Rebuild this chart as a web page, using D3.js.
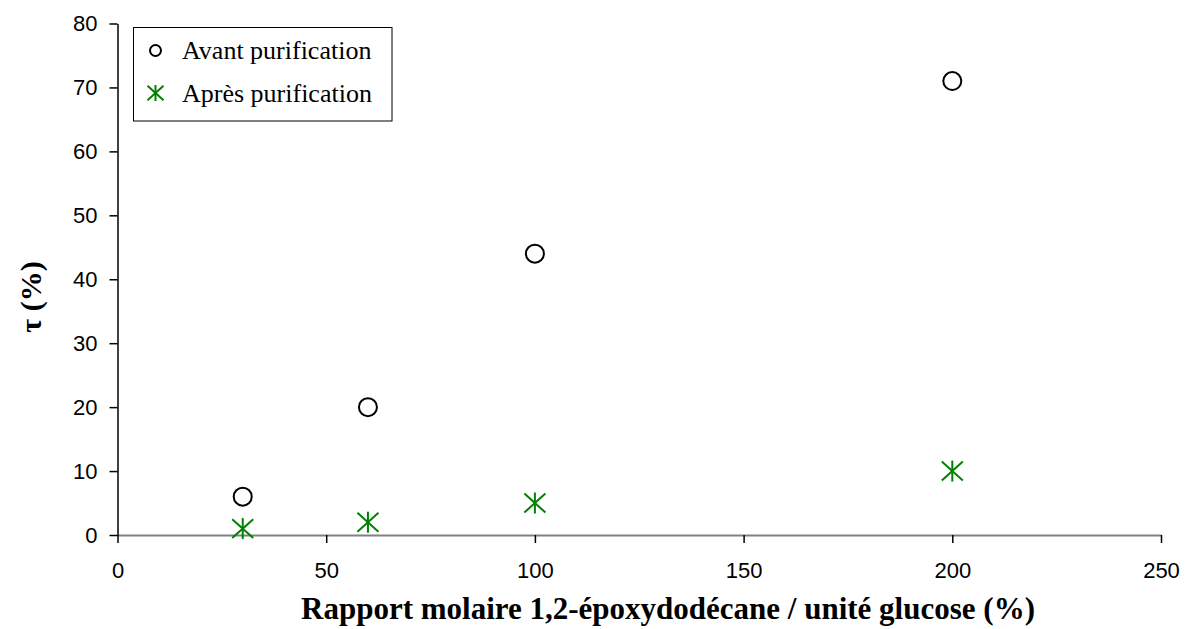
<!DOCTYPE html>
<html><head><meta charset="utf-8">
<script src="https://cdn.jsdelivr.net/npm/d3@7"></script>
<style>body{margin:0;background:#fff}</style>
</head><body>
<svg id="c" width="1188" height="629"></svg>
<script>
const ratios = [30, 60, 100, 200];
const avant = [6, 20, 44, 71];
const apres = [1, 2, 5, 10];
const xTicks = [0, 50, 100, 150, 200, 250];
const yTicks = [0, 10, 20, 30, 40, 50, 60, 70, 80];
const seriesNames = ["Avant purification", "Après purification"];

const svg = d3.select("#c");
const x = d3.scaleLinear().domain([0, 250]).range([117.5, 1161]);
const y = d3.scaleLinear().domain([0, 80]).range([535, 23.5]);
const green = "#008000";

// x axis
const xa = svg.append("g").attr("transform", "translate(0,535)")
  .call(d3.axisBottom(x).tickValues(xTicks).tickSize(8).tickSizeOuter(0));
xa.select(".domain").attr("stroke", "#808080").attr("stroke-width", 2);
xa.selectAll(".tick line").attr("stroke", "#000").attr("stroke-width", 1.5);
xa.selectAll(".tick text").attr("font-family", "Liberation Sans, Arial").attr("font-size", 22)
  .attr("y", 43).attr("dy", null).attr("fill", "#000");

// y axis
const ya = svg.append("g").attr("transform", "translate(117.5,0)")
  .call(d3.axisLeft(y).tickValues(yTicks).tickSize(8).tickSizeOuter(0));
ya.select(".domain").attr("stroke", "#000").attr("stroke-width", 1.5);
ya.selectAll(".tick line").attr("stroke", "#000").attr("stroke-width", 1.5);
ya.selectAll(".tick text").attr("font-family", "Liberation Sans, Arial").attr("font-size", 22)
  .attr("x", -20).attr("fill", "#000");

// titles
svg.append("text").attr("x", 668).attr("y", 619).attr("text-anchor", "middle")
  .attr("font-family", "Liberation Serif, Times New Roman").attr("font-weight", "bold").attr("font-size", 31)
  .text("Rapport molaire 1,2-époxydodécane / unité glucose (%)");
svg.append("text").attr("transform", "translate(41,297) rotate(-90)").attr("text-anchor", "middle")
  .attr("font-family", "Liberation Serif, Times New Roman").attr("font-weight", "bold").attr("font-size", 30)
  .text("τ (%)");

function star(g, cx, cy, r) {
  g.append("line").attr("x1", cx).attr("x2", cx).attr("y1", cy - r).attr("y2", cy + r);
  g.append("line").attr("x1", cx - r).attr("x2", cx + r).attr("y1", cy - r*0.9).attr("y2", cy + r*0.9);
  g.append("line").attr("x1", cx - r).attr("x2", cx + r).attr("y1", cy + r*0.9).attr("y2", cy - r*0.9);
}

// avant points
svg.append("g").selectAll("circle").data(ratios).join("circle")
  .attr("cx", d => x(d)).attr("cy", (d, i) => y(avant[i])).attr("r", 9)
  .attr("fill", "none").attr("stroke", "#000").attr("stroke-width", 2);

// apres points
const sg = svg.append("g").attr("stroke", green).attr("stroke-width", 2);
ratios.forEach((d, i) => star(sg, x(d), y(apres[i]), 10.5));

// legend
const lg = svg.append("g");
lg.append("rect").attr("x", 133.5).attr("y", 27.5).attr("width", 258.5).attr("height", 93.5)
  .attr("fill", "#fff").attr("stroke", "#000").attr("stroke-width", 1);
lg.append("circle").attr("cx", 155.5).attr("cy", 50.5).attr("r", 5.5).attr("fill", "none").attr("stroke", "#000").attr("stroke-width", 2);
const lsg = lg.append("g").attr("stroke", green).attr("stroke-width", 2);
star(lsg, 155.5, 93, 8);
lg.selectAll("text").data(seriesNames).join("text")
  .attr("x", 182).attr("y", (d, i) => 59 + i * 43)
  .attr("font-family", "Liberation Serif, Times New Roman").attr("font-size", 26).attr("fill", "#000")
  .text(d => d);
</script>
</body></html>
